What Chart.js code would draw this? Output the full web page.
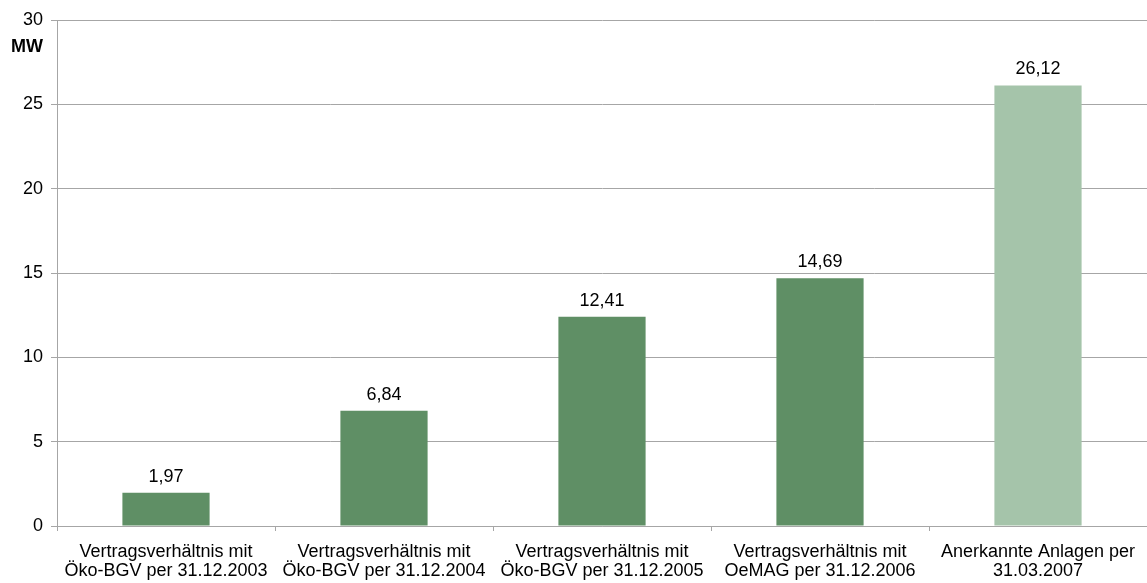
<!DOCTYPE html>
<html>
<head>
<meta charset="utf-8">
<script src="https://cdn.jsdelivr.net/npm/chart.js@4"></script>
<style>
  html, body { margin: 0; padding: 0; background: #fff; }
  #wrap { width: 1147px; height: 583px; }
</style>
</head>
<body>
<div id="wrap"><canvas id="myChart"></canvas></div>
<script>
const categories = [
  ['Vertragsverhältnis mit', 'Öko-BGV per 31.12.2003'],
  ['Vertragsverhältnis mit', 'Öko-BGV per 31.12.2004'],
  ['Vertragsverhältnis mit', 'Öko-BGV per 31.12.2005'],
  ['Vertragsverhältnis mit', 'OeMAG per 31.12.2006'],
  ['Anerkannte Anlagen per', '31.03.2007']
];
const values = [1.97, 6.84, 12.41, 14.69, 26.12];
const barColors = ['#5f8f65', '#5f8f65', '#5f8f65', '#5f8f65', '#a5c4aa'];
const unitLabel = 'MW';

const FONT = 'Arial, "Liberation Sans", sans-serif';

// value labels above bars, on a white box that hides the grid line
const valueLabels = {
  id: 'valueLabels',
  afterDatasetsDraw(chart) {
    const c = chart.ctx;
    const meta = chart.getDatasetMeta(0);
    c.save();
    c.font = '18px ' + FONT;
    c.textAlign = 'center';
    c.textBaseline = 'alphabetic';
    meta.data.forEach((bar, i) => {
      const txt = values[i].toFixed(2).replace('.', ',');
      const y = bar.y - 11;
      const w = c.measureText(txt).width + 50;
      c.fillStyle = '#fff';
      c.fillRect(bar.x - w / 2, y - 17, w, 22);
      c.fillStyle = '#000';
      c.fillText(txt, bar.x, y);
    });
    c.font = 'bold 18px ' + FONT;
    c.textAlign = 'center';
    c.textBaseline = 'middle';
    c.fillText(unitLabel, 27, 47);
    c.restore();
  }
};

const ctx = document.getElementById('myChart').getContext('2d');
const myChart = new Chart(ctx, {
  type: 'bar',
  data: {
    labels: categories,
    datasets: [{
      data: values,
      backgroundColor: barColors,
      borderWidth: 0,
      categoryPercentage: 1,
      barPercentage: 0.4
    }]
  },
  options: {
    responsive: true,
    maintainAspectRatio: false,
    animation: false,
    layout: { padding: { top: 20, right: 0, left: 0, bottom: 0 } },
    plugins: {
      legend: { display: false },
      tooltip: { enabled: false }
    },
    scales: {
      x: {
        afterFit(scale) { scale.height = 57; },
        grid: {
          offset: true,
          drawOnChartArea: false,
          color: '#a6a6a6',
          tickLength: 5
        },
        border: { color: '#a6a6a6' },
        ticks: {
          color: '#000',
          font: { family: FONT, size: 18, lineHeight: 1.06 },
          padding: 11,
          maxRotation: 0,
          autoSkip: false
        }
      },
      y: {
        min: 0,
        max: 30,
        afterFit(scale) { scale.width = 57; },
        grid: {
          color: '#a6a6a6',
          tickLength: 6
        },
        border: { color: '#a6a6a6' },
        ticks: {
          stepSize: 5,
          color: '#000',
          font: { family: FONT, size: 18 },
          padding: 8
        }
      }
    }
  },
  plugins: [valueLabels]
});
</script>
</body>
</html>
